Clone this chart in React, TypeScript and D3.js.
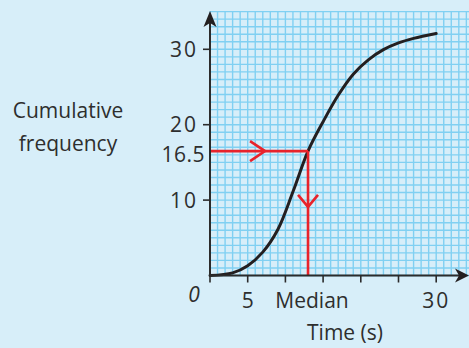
import React from "react";
import * as d3 from "d3";

const times = [0, 3, 5, 7, 9, 11, 13, 15, 17, 19, 21, 23, 25, 27, 30];
const cumFreq = [0, 0.35, 1.3, 3.1, 6.1, 11.1, 16.5, 20.4, 23.9, 26.7, 28.6, 29.95, 30.85, 31.45, 32.1];
const xTicks = [0, 5, 10, 15, 20, 25, 30];
const xTickLabels = ["0", "5", "Median", "", "", "", "30"];
const yTicks = [10, 20, 30];
const yLabelTicks = [10, 16.5, 20, 30];
const medianValue = 13;
const medianFreq = 16.5;

const W = 469;
const H = 348;
const FONT = "'Open Sans', 'DejaVu Sans', sans-serif";

export default function App() {
  const unit = 7.54;
  const x0 = 210;
  const y0 = 275.5;
  const x = d3.scaleLinear().domain([0, 35]).range([x0, x0 + 35 * unit]);
  const y = d3.scaleLinear().domain([0, 35]).range([y0, y0 - 35 * unit]);

  const gridX = d3.range(0, 35);
  const gridY = d3.range(0, 36);

  const line = d3
    .line<number>()
    .x((_, i) => x(times[i]))
    .y((d) => y(d))
    .curve(d3.curveCatmullRom.alpha(0.5));

  const mx = x(medianValue);
  const my = y(medianFreq);
  const textColor = "#2e2e2e";
  const red = "#e8232b";

  const arrowUp = (tx: number, ty: number) =>
    `M${tx},${ty} L${tx + 6.5},${ty + 16} L${tx},${ty + 12} L${tx - 6.5},${ty + 16} Z`;
  const arrowRight = (tx: number, ty: number) =>
    `M${tx},${ty} L${tx - 14},${ty + 7} L${tx - 10},${ty} L${tx - 14},${ty - 7} Z`;

  const hArrowX = x(7.3);
  const vArrowY = y(9.1);

  return (
    <svg
      width={W}
      height={H}
      style={{ position: "absolute", left: 0, top: 0, background: "#d7eef9" }}
    >
      <rect x={0} y={0} width={W} height={H} fill="#d7eef9" />
      <g stroke="#80d0f2" strokeWidth={1.4}>
        {gridX.map((k) => (
          <line key={"gx" + k} x1={x(k)} x2={x(k)} y1={y(0)} y2={y(35)} />
        ))}
        {gridY.map((k) => (
          <line key={"gy" + k} x1={x(0)} x2={W} y1={y(k)} y2={y(k)} />
        ))}
      </g>

      {/* curve */}
      <path d={line(cumFreq) || ""} fill="none" stroke="#231f20" strokeWidth={3} strokeLinecap="round" />

      {/* median guides */}
      <g stroke={red} strokeWidth={2.6} fill="none" strokeLinecap="butt">
        <line x1={x(0)} x2={mx} y1={my} y2={my} />
        <line x1={mx} x2={mx} y1={my} y2={y(0)} />
        <polyline points={`${hArrowX - 15},${my - 10} ${hArrowX},${my} ${hArrowX - 15},${my + 10}`} strokeLinejoin="miter" />
        <polyline points={`${mx - 10},${vArrowY - 12} ${mx},${vArrowY} ${mx + 10},${vArrowY - 12}`} strokeLinejoin="miter" />
      </g>

      {/* axes */}
      <g stroke="#2b2b2b" strokeWidth={2}>
        <line x1={x(0)} x2={x(0)} y1={y(0) + 1} y2={20} />
        <line x1={x(0) - 1} x2={460} y1={y(0)} y2={y(0)} />
        {xTicks.map((t) => (
          <line key={"xt" + t} x1={x(t)} x2={x(t)} y1={y(0)} y2={y(0) + 7} strokeWidth={1.6} />
        ))}
        {yTicks.map((t) => (
          <line key={"yt" + t} x1={x(0) - 7} x2={x(0)} y1={y(t)} y2={y(t)} strokeWidth={1.6} />
        ))}
      </g>
      <path d={arrowUp(x(0), 11)} fill="#231f20" />
      <path d={arrowRight(469, y(0))} fill="#231f20" />

      {/* labels */}
      <g fontFamily={FONT} fill={textColor} fontSize={21}>
        {yLabelTicks.map((t) => (
          <text
            key={"yl" + t}
            x={t === 16.5 ? 205 : 198}
            y={t === 16.5 ? 154 : y(t)}
            dy="0.36em"
            textAnchor="end"
            letterSpacing={t === 16.5 ? 0.5 : 2}
          >
            {String(t)}
          </text>
        ))}
        {xTicks.map((t, i) =>
          xTickLabels[i] === "" ? null : (
            <text
              key={"xl" + t}
              x={t === 0 ? 194 : t === 10 ? 312 : x(t)}
              y={t === 0 ? 302 : 308}
              textAnchor="middle"
              fontStyle={t === 0 ? "italic" : "normal"}
              letterSpacing={t === 30 ? 2 : 0}
            >
              {xTickLabels[i]}
            </text>
          )
        )}
        <text x={345} y={340} textAnchor="middle">Time (s)</text>
        <text x={68} y={118} textAnchor="middle">Cumulative</text>
        <text x={68} y={151} textAnchor="middle">frequency</text>
      </g>
    </svg>
  );
}
